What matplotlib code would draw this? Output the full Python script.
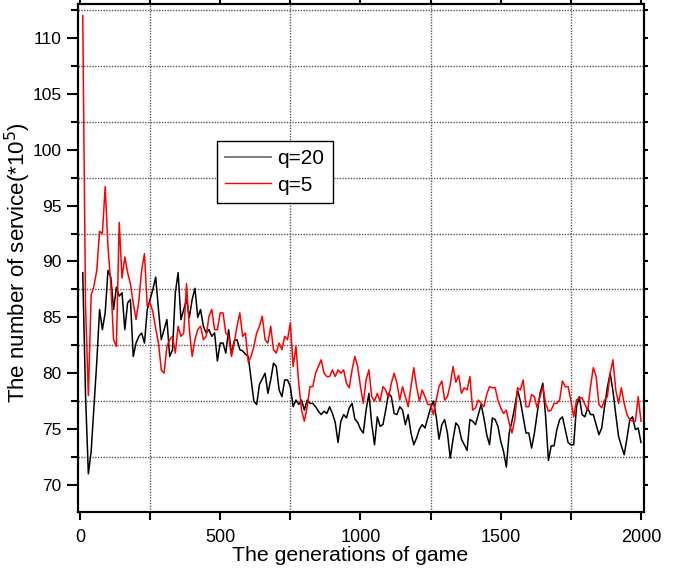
import matplotlib
matplotlib.use("Agg")
import matplotlib.pyplot as plt
from matplotlib.ticker import MultipleLocator
from matplotlib.lines import Line2D

plt.rcParams['font.family'] = ['Liberation Sans', 'DejaVu Sans']

# generation index of each sample (every 10 generations)
generations = list(range(10, 2001, 10))

# q=20 (black)
q20 = [
    89.0, 78.0, 71.0, 73.0, 77.0, 81.0, 85.7, 83.9, 85.4, 89.2,
    88.6, 85.7, 87.7, 86.9, 87.2, 83.9, 86.3, 86.6, 81.5, 82.7,
    83.3, 83.6, 82.7, 85.7, 86.6, 87.5, 88.6, 85.7, 83.0, 83.9,
    84.8, 81.5, 82.1, 87.2, 89.0, 84.8, 85.7, 86.6, 85.0, 86.6,
    87.6, 85.0, 85.7, 84.2, 83.6, 83.9, 83.3, 83.6, 81.1, 82.7,
    82.7, 81.8, 83.9, 81.7, 82.9, 83.0, 82.1, 82.0, 81.7, 81.5,
    79.5, 77.5, 77.2, 79.0, 79.5, 80.0, 78.2, 79.4, 80.9, 80.6,
    78.5, 77.9, 79.4, 79.4, 78.8, 77.0, 77.6, 77.2, 77.6, 76.7,
    77.6, 77.3, 77.3, 77.0, 76.6, 76.3, 76.6, 76.4, 77.0, 76.4,
    75.6, 73.8, 75.7, 76.3, 76.0, 76.9, 77.3, 75.9, 75.6, 75.0,
    74.65, 76.7, 78.2, 75.5, 73.6, 76.1, 75.25, 75.4, 76.7, 78.2,
    77.9, 76.4, 76.3, 77.0, 76.7, 75.4, 76.3, 74.65, 73.6, 74.2,
    75.0, 75.4, 75.1, 76.0, 76.9, 77.5, 76.1, 74.1, 75.4, 75.85,
    74.65, 72.4, 74.1, 75.55, 75.25, 74.1, 73.6, 73.1, 75.85, 75.7,
    75.4, 76.3, 77.2, 76.0, 74.5, 73.6, 76.0, 75.85, 75.25, 73.9,
    73.0, 71.6, 74.65, 75.7, 77.0, 78.5, 77.5, 76.1, 74.65, 74.65,
    73.3, 74.65, 76.4, 78.2, 79.1, 76.1, 72.2, 73.5, 73.5, 74.95,
    75.85, 76.1, 74.95, 73.8, 73.6, 73.6, 77.0, 77.9, 76.3, 76.1,
    76.9, 76.3, 76.3, 75.4, 74.5, 75.1, 77.0, 78.7, 80.0, 78.4,
    76.3, 74.35, 73.5, 72.7, 74.2, 75.85, 76.1, 74.95, 75.1, 73.8,
]

# q=5 (red)
q5 = [
    112.0, 86.0, 78.0, 87.0, 87.8, 89.2, 92.7, 92.5, 96.7, 91.3,
    88.0, 83.0, 82.4, 93.5, 88.5, 90.4, 89.0, 88.0, 86.3, 84.8,
    86.5, 89.2, 90.7, 86.0, 86.3, 85.5, 84.0, 82.7, 80.3, 80.0,
    82.4, 83.0, 83.3, 81.8, 84.2, 83.3, 83.6, 88.0, 83.9, 81.5,
    83.0, 83.9, 84.2, 83.0, 83.3, 85.1, 85.7, 83.9, 83.9, 85.4,
    85.4, 83.6, 83.3, 81.5, 82.7, 84.2, 85.4, 83.3, 83.6, 81.0,
    81.5, 82.4, 83.6, 84.2, 85.1, 83.0, 82.7, 84.2, 82.1, 81.8,
    82.7, 82.1, 83.3, 83.0, 84.5, 80.6, 82.4, 79.1, 76.7, 75.7,
    77.0, 78.8, 78.8, 80.0, 80.6, 81.2, 80.0, 79.7, 79.7, 80.3,
    79.7, 80.3, 80.0, 80.3, 79.1, 78.7, 80.3, 81.5, 80.6, 78.8,
    77.3, 79.4, 80.3, 77.9, 77.5, 78.2, 77.5, 78.8, 78.5, 77.8,
    79.1, 80.0, 79.1, 77.6, 78.8, 77.9, 77.0, 78.8, 80.5, 78.8,
    77.5, 78.5, 77.9, 77.2, 77.2, 76.3, 77.6, 78.8, 79.3, 77.6,
    77.9, 79.0, 80.6, 79.2, 79.8, 78.2, 78.7, 78.5, 79.7, 76.7,
    76.9, 77.6, 77.3, 77.0, 78.1, 78.8, 78.7, 78.7, 77.6, 76.9,
    76.4, 76.7, 75.55, 74.65, 75.85, 78.7, 78.5, 79.4, 77.0, 77.0,
    78.1, 77.9, 76.9, 77.9, 78.8, 77.3, 76.6, 76.7, 77.3, 77.3,
    77.6, 79.3, 78.8, 78.8, 77.6, 76.1, 77.6, 77.8, 77.8, 77.2,
    76.7, 78.8, 80.5, 79.7, 77.2, 76.9, 77.6, 77.9, 80.0, 81.2,
    78.5, 77.3, 78.7, 77.3, 76.3, 75.85, 75.7, 75.7, 77.9, 75.7,
]

fig = plt.figure(figsize=(6.78, 5.71), dpi=100)
ax = fig.add_axes([0.115, 0.1033, 0.835, 0.8897])

ax.plot(generations, q20, color='black', lw=1.1)
ax.plot(generations, q5, color='red', lw=1.1)

ax.set_xlim(-7, 2011)
ax.set_ylim(67.58, 113.04)

ax.xaxis.set_major_locator(MultipleLocator(500))
ax.xaxis.set_minor_locator(MultipleLocator(250))
ax.yaxis.set_major_locator(MultipleLocator(5))
ax.yaxis.set_minor_locator(MultipleLocator(2.5))

ax.grid(which='minor', linestyle=(0, (1, 1)), color='0.35', lw=1.0)
ax.grid(which='major', visible=False)

for s in ax.spines.values():
    s.set_linewidth(1.5)

ax.tick_params(axis='x', which='both', direction='out', length=6, width=1.5,
               top=True, labelsize=13, pad=6)
ax.tick_params(axis='y', which='major', direction='out', length=8, width=1.5,
               labelsize=12.5, pad=4)
ax.tick_params(axis='y', which='minor', direction='out', length=5, width=1.5)

# short ticks on the right side
axr = ax.twinx()
axr.set_ylim(ax.get_ylim())
axr.yaxis.set_major_locator(MultipleLocator(5))
axr.yaxis.set_minor_locator(MultipleLocator(2.5))
axr.tick_params(axis='y', which='both', direction='out', length=3, width=1.5,
                labelright=False)
for s in axr.spines.values():
    s.set_linewidth(1.5)

ax.set_xlabel('The generations of game', fontsize=15.3)
ax.xaxis.set_label_coords(0.48, -0.066)
ax.set_ylabel('The number of service(*10$^5$)', fontsize=16)
ax.yaxis.set_label_coords(-0.080, 0.492)

handles = [Line2D([], [], color='0.45', lw=1.3), Line2D([], [], color='red', lw=1.0)]
leg = ax.legend(handles, ['q=20', 'q=5'], loc='upper left',
                bbox_to_anchor=(0.2456, 0.730), fontsize=15, frameon=True,
                fancybox=False, edgecolor='black', framealpha=1,
                handlelength=2.2, handletextpad=0.3, labelspacing=0.35,
                borderpad=0.4, borderaxespad=0)
leg.get_frame().set_linewidth(1.0)

fig.savefig('out.png', dpi=100)
